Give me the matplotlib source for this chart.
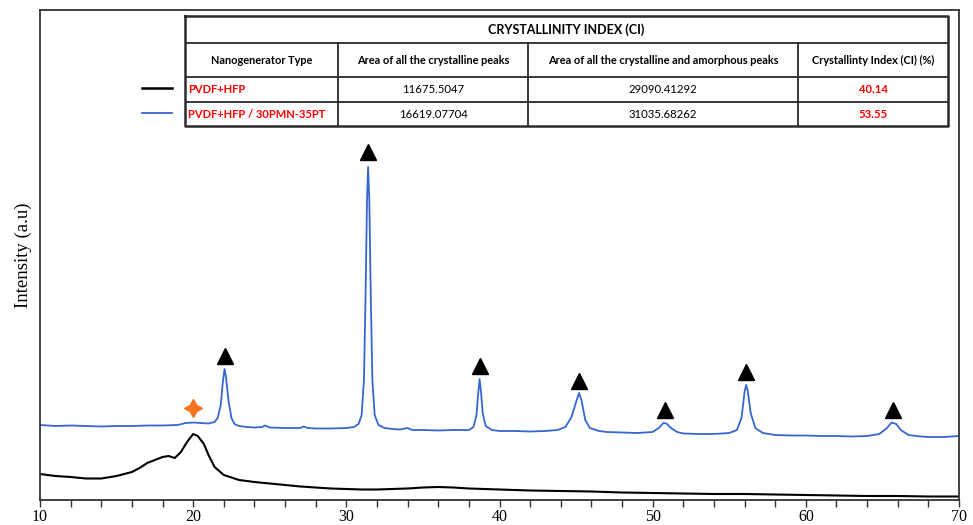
import numpy as np
import matplotlib
matplotlib.use("Agg")
import matplotlib.pyplot as plt
from matplotlib.lines import Line2D

# XRD patterns, 2theta (deg) vs intensity (a.u.)
blue_x = [10.0, 11.0, 12.0, 13.0, 14.0, 15.0, 16.0, 17.0, 18.0, 19.0, 19.5, 20.0, 20.5, 21.0,
          21.4, 21.6, 21.8, 21.95, 22.05, 22.15, 22.3, 22.5, 22.7, 23.0, 23.5, 24.0, 24.5, 24.7,
          25.0, 26.0, 27.0, 27.2, 27.5, 28.0, 29.0, 30.0, 30.5, 30.8, 31.0, 31.15, 31.25, 31.35,
          31.42, 31.5, 31.6, 31.7, 31.85, 32.1, 32.5, 33.0, 33.5, 34.0, 34.3, 35.0, 36.0, 37.0,
          38.0, 38.3, 38.5, 38.6, 38.7, 38.8, 38.9, 39.1, 39.5, 40.0, 41.0, 42.0, 43.0, 43.8,
          44.3, 44.7, 45.0, 45.2, 45.35, 45.6, 45.9, 46.5, 47.0, 48.0, 49.0, 50.0, 50.4, 50.7,
          50.9, 51.2, 51.6, 52.0, 53.0, 54.0, 55.0, 55.5, 55.8, 56.0, 56.1, 56.2, 56.4, 56.7,
          57.2, 58.0, 59.0, 60.0, 61.0, 62.0, 63.0, 64.0, 64.8, 65.3, 65.6, 65.9, 66.2, 66.7,
          67.5, 68.0, 69.0, 69.5, 70.0]
blue_y = [75, 74, 74.5, 74, 73.5, 74, 74, 74.5, 74.5, 75, 77, 77.5, 77, 76.5,
          78, 82, 95, 120, 131, 122, 100, 82, 76, 74, 73, 72.5, 73, 74.5,
          72.5, 72, 72, 73.5, 72, 71.5, 71.5, 72, 73, 76, 85, 120, 200, 300,
          333, 300, 200, 120, 85, 75, 72, 71, 70.5, 72, 70, 70, 69.5, 70,
          70, 73, 85, 105, 121, 107, 87, 74, 70, 69, 69, 68.5, 69, 70,
          73, 83, 98, 107, 100, 80, 72, 69, 68, 67.5, 67, 68, 72, 77,
          76.5, 72, 68, 66.5, 66, 66, 67, 70, 82, 108, 115, 110, 87, 72,
          67, 65, 64.5, 64.5, 64, 64, 63.5, 64, 66, 72, 77.5, 76, 70, 65,
          63.5, 63, 63, 63.5, 64]

black_x = [10.0, 11.0, 12.0, 13.0, 14.0, 15.0, 16.0, 16.5, 17.0, 17.5, 18.0, 18.4, 18.8,
           19.2, 19.6, 20.0, 20.3, 20.7, 21.0, 21.4, 22.0, 23.0, 24.0, 25.0, 26.0, 27.0,
           28.0, 29.0, 30.0, 31.0, 32.0, 33.0, 34.0, 35.0, 36.0, 37.0, 38.0, 39.0, 40.0,
           42.0, 44.0, 46.0, 48.0, 50.0, 52.0, 54.0, 56.0, 58.0, 60.0, 62.0, 64.0, 66.0,
           68.0, 70.0]
black_y = [26, 24, 23, 21.5, 21.5, 24, 28, 32, 37, 40, 43, 44, 42,
           48, 58, 66, 64, 56, 45, 33, 25, 20, 18, 16.5, 15, 13.5,
           12.5, 11.5, 11, 10.5, 10.5, 11, 11.5, 12.5, 13, 12.5, 11.5, 11, 10.5,
           9.5, 9, 8.5, 7.5, 7, 6.5, 6, 6, 5.5, 5, 4.5, 4, 4,
           3.5, 3.5]

# indexed reflections of the perovskite filler
peak_x = [22.05, 31.42, 38.7, 45.2, 50.8, 56.1, 65.7]
peak_mark_y = [144, 348, 134, 119, 90, 128, 90]
star_x = [20.0]
star_y = [92]

# crystallinity table
col_labels = ["Nanogenerator Type", "Area of all the crystalline peaks",
              "Area of all the crystalline and amorphous peaks", "Crystallinty Index (CI) (%)"]
samples = ["PVDF+HFP", "PVDF+HFP / 30PMN-35PT"]
cryst_area = ["11675.5047", "16619.07704"]
total_area = ["29090.41292", "31035.68262"]
ci_values = ["40.14", "53.55"]
line_colors = ["black", "#3567d3"]

W, H = 973, 525
fig = plt.figure(figsize=(W / 100, H / 100), dpi=100)
ax = fig.add_axes([40 / W, 25 / H, 919 / W, 490 / H])

ax.plot(black_x, black_y, color=line_colors[0], lw=1.5)
ax.plot(blue_x, blue_y, color=line_colors[1], lw=1.3)
ax.plot(peak_x, peak_mark_y, ls="none", marker="^", ms=12, color="black")
ax.plot(star_x, star_y, ls="none", marker=(4, 1, 0), ms=13, color="#f37321")

ax.set_xlim(10, 70)
ax.set_ylim(0, 490)
ax.set_xticks(range(10, 71, 10))
ax.set_xticks(range(10, 71, 2), minor=True)
ax.set_yticks([])
ax.tick_params(axis="x", which="both", direction="out", length=5, width=1,
               color="#333333", pad=1.5)
for lbl in ax.get_xticklabels():
    lbl.set_family("Liberation Serif")
    lbl.set_fontsize(11.5)
for s in ax.spines.values():
    s.set_color("#333333")
    s.set_linewidth(1.3)
ax.set_ylabel("Intensity (a.u)", family="Liberation Serif", fontsize=13.5, labelpad=6)

# table drawn in its own pixel-unit axes
tx0, ty0, tw, th = 185, 16, 763, 110
tab = fig.add_axes([tx0 / W, (H - ty0 - th) / H, tw / W, th / H])
tab.set_xlim(0, tw)
tab.set_ylim(th, 0)
tab.axis("off")
cols = [0, 153, 343, 613, 763]
rows = [0, 27, 61, 86, 110]
lc = "#2a2a2a"
tab.plot([0, tw, tw, 0, 0], [0, 0, th, th, 0], color=lc, lw=1.8, clip_on=False)
for r in rows[1:-1]:
    tab.plot([0, tw], [r, r], color=lc, lw=1.3)
for c in cols[1:-1]:
    tab.plot([c, c], [rows[1], th], color=lc, lw=1.3)

fnt = "Lato"
tab.text(tw / 2, rows[1] / 2, "CRYSTALLINITY INDEX (CI)", ha="center", va="center",
         fontsize=9, weight="bold", family=fnt)
for i, lab in enumerate(col_labels):
    tab.text((cols[i] + cols[i + 1]) / 2, (rows[1] + rows[2]) / 2, lab, ha="center",
             va="center", fontsize=7.9, weight="bold", family=fnt)
for j in range(2):
    yc = (rows[2 + j] + rows[3 + j]) / 2
    tab.text(3, yc, samples[j], ha="left", va="center", fontsize=8, weight="bold",
             color="red", family=fnt)
    tab.text((cols[1] + cols[2]) / 2, yc, cryst_area[j], ha="center", va="center",
             fontsize=8.2, family=fnt)
    tab.text((cols[2] + cols[3]) / 2, yc, total_area[j], ha="center", va="center",
             fontsize=8.2, family=fnt)
    tab.text((cols[3] + cols[4]) / 2, yc, ci_values[j], ha="center", va="center",
             fontsize=8.2, weight="bold", color="red", family=fnt)
    tab.add_line(Line2D([-43, -13], [yc - 1.5, yc - 1.5], color=line_colors[j],
                        lw=1.8 if j == 0 else 1.3, clip_on=False))

fig.savefig("out.png", dpi=100)
